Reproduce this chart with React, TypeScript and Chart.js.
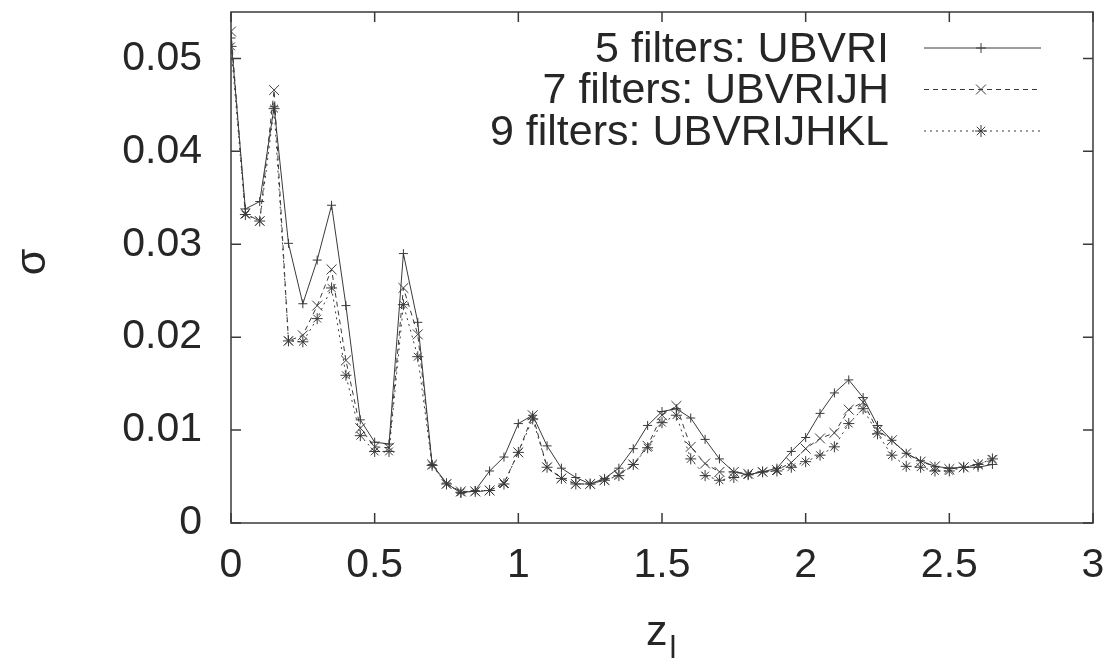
import React, { useEffect, useRef } from "react";
import { Chart, registerables } from "chart.js";

Chart.register(...registerables);

// ---- data ----
const zValues = [
  0, 0.05, 0.1, 0.15, 0.2, 0.25, 0.3, 0.35, 0.4, 0.45,
  0.5, 0.55, 0.6, 0.65, 0.7, 0.75, 0.8, 0.85, 0.9, 0.95,
  1.0, 1.05, 1.1, 1.15, 1.2, 1.25, 1.3, 1.35, 1.4, 1.45,
  1.5, 1.55, 1.6, 1.65, 1.7, 1.75, 1.8, 1.85, 1.9, 1.95,
  2.0, 2.05, 2.1, 2.15, 2.2, 2.25, 2.3, 2.35, 2.4, 2.45,
  2.5, 2.55, 2.6, 2.65,
];

const sigma5 = [
  0.0522, 0.0338, 0.0346, 0.0448, 0.0301, 0.0236, 0.0283, 0.0342, 0.0234, 0.0111,
  0.0087, 0.0085, 0.0290, 0.0216, 0.0063, 0.0043, 0.0032, 0.0035, 0.0056, 0.0071,
  0.0107, 0.0116, 0.0083, 0.0059, 0.0049, 0.0042, 0.0048, 0.0059, 0.0080, 0.0105,
  0.0120, 0.0123, 0.0113, 0.0090, 0.0069, 0.0055, 0.0052, 0.0055, 0.0059, 0.0077,
  0.0092, 0.0118, 0.0140, 0.0154, 0.0135, 0.0105, 0.0089, 0.0075, 0.0067, 0.0061,
  0.0059, 0.0060, 0.0060, 0.0063,
];

const sigma7 = [
  0.0529, 0.0333, 0.0325, 0.0466, 0.0196, 0.0202, 0.0234, 0.0273, 0.0175, 0.0102,
  0.0082, 0.0081, 0.0253, 0.0203, 0.0063, 0.0042, 0.0034, 0.0034, 0.0035, 0.0043,
  0.0076, 0.0116, 0.0060, 0.0048, 0.0042, 0.0042, 0.0046, 0.0052, 0.0063, 0.0083,
  0.0116, 0.0126, 0.0082, 0.0064, 0.0055, 0.0055, 0.0053, 0.0055, 0.0057, 0.0065,
  0.0080, 0.0091, 0.0097, 0.0122, 0.0130, 0.0100, 0.0089, 0.0075, 0.0066, 0.0061,
  0.0058, 0.0060, 0.0063, 0.0068,
];

const sigma9 = [
  0.0513, 0.0332, 0.0325, 0.0446, 0.0196, 0.0195, 0.0220, 0.0253, 0.0159, 0.0094,
  0.0077, 0.0077, 0.0235, 0.0179, 0.0062, 0.0042, 0.0033, 0.0034, 0.0035, 0.0042,
  0.0076, 0.0112, 0.0060, 0.0048, 0.0042, 0.0042, 0.0046, 0.0051, 0.0063, 0.0081,
  0.0108, 0.0116, 0.0069, 0.0051, 0.0046, 0.0049, 0.0052, 0.0055, 0.0056, 0.0060,
  0.0066, 0.0073, 0.0082, 0.0107, 0.0123, 0.0096, 0.0073, 0.0061, 0.0060, 0.0056,
  0.0056, 0.0060, 0.0063, 0.0069,
];

const seriesNames = ["5 filters: UBVRI", "7 filters: UBVRIJH", "9 filters: UBVRIJHKL"];
const xTickValues = [0, 0.5, 1, 1.5, 2, 2.5, 3];
const yTickValues = [0, 0.01, 0.02, 0.03, 0.04, 0.05];
const xTitleMain = "z";
const xTitleSub = "l";
const yTitle = "σ";

// ---- styles ----
const INK = "#262626";
const LINE = "#3a3a3a";
const FONT = "'Liberation Sans', Arial, Helvetica, sans-serif";

function drawMarker(ctx: CanvasRenderingContext2D, style: string, x: number, y: number, r: number) {
  ctx.beginPath();
  if (style === "cross" || style === "star") {
    ctx.moveTo(x - r, y);
    ctx.lineTo(x + r, y);
    ctx.moveTo(x, y - r);
    ctx.lineTo(x, y + r);
  }
  if (style === "crossRot" || style === "star") {
    const d = r * Math.SQRT1_2;
    ctx.moveTo(x - d, y - d);
    ctx.lineTo(x + d, y + d);
    ctx.moveTo(x - d, y + d);
    ctx.lineTo(x + d, y - d);
  }
  ctx.stroke();
}

const framePlugin = {
  id: "gnuplotFrame",
  afterDraw(chart: any) {
    const { ctx, chartArea } = chart;
    const { left, right, top, bottom } = chartArea;
    const xs = chart.scales.x;
    const ys = chart.scales.y;
    ctx.save();
    // border
    ctx.strokeStyle = LINE;
    ctx.lineWidth = 1.5;
    ctx.strokeRect(left, top, right - left, bottom - top);
    // inward ticks (mirrored)
    const tl = 10;
    ctx.beginPath();
    xTickValues.forEach((v) => {
      const px = xs.getPixelForValue(v);
      ctx.moveTo(px, bottom);
      ctx.lineTo(px, bottom - tl);
      ctx.moveTo(px, top);
      ctx.lineTo(px, top + tl);
    });
    yTickValues.forEach((v) => {
      const py = ys.getPixelForValue(v);
      ctx.moveTo(left, py);
      ctx.lineTo(left + tl, py);
      ctx.moveTo(right, py);
      ctx.lineTo(right - tl, py);
    });
    ctx.stroke();

    // legend
    ctx.font = `43px ${FONT}`;
    ctx.fillStyle = INK;
    ctx.textAlign = "right";
    ctx.textBaseline = "middle";
    chart.data.datasets.forEach((ds: any, i: number) => {
      const y = 48 + i * 41.5;
      ctx.fillText(ds.label, 889, y + 2);
      ctx.strokeStyle = LINE;
      ctx.lineWidth = 1;
      ctx.setLineDash(ds.borderDash || []);
      ctx.beginPath();
      ctx.moveTo(924, y);
      ctx.lineTo(1041, y);
      ctx.stroke();
      ctx.setLineDash([]);
      drawMarker(ctx, ds.pointStyle, 981, y, ds.legendMarkerSize);
    });

    // axis titles
    ctx.fillStyle = INK;
    ctx.textAlign = "left";
    ctx.textBaseline = "alphabetic";
    ctx.font = `43px ${FONT}`;
    ctx.fillText(xTitleMain, 646, 645);
    const zw = ctx.measureText(xTitleMain).width;
    ctx.font = `31px ${FONT}`;
    ctx.fillText(xTitleSub, 646 + zw + 2, 658);

    ctx.translate(33, 262);
    ctx.rotate(-Math.PI / 2);
    ctx.textAlign = "center";
    ctx.textBaseline = "middle";
    ctx.font = `43px ${FONT}`;
    ctx.fillText(yTitle, 0, 0);
    ctx.restore();
  },
};

const fmt = (v: number) => String(Number(Number(v).toFixed(3)));

const zeroPad = (s: any) => {
  s.paddingLeft = 0;
  s.paddingRight = 0;
  s.paddingTop = 0;
  s.paddingBottom = 0;
};

export default function App() {
  const ref = useRef<HTMLCanvasElement>(null);
  useEffect(() => {
    const canvas = ref.current;
    if (!canvas) return;
    const mk = (arr: number[]) => zValues.map((z, i) => ({ x: z, y: arr[i] }));
    const common = {
      borderColor: LINE,
      borderWidth: 1,
      pointBorderColor: LINE,
      pointBackgroundColor: "rgba(0,0,0,0)",
      pointBorderWidth: 1,
      fill: false,
      tension: 0,
    };
    const chart = new Chart(canvas, {
      type: "line",
      data: {
        datasets: [
          { ...common, label: seriesNames[0], data: mk(sigma5), pointStyle: "cross", pointRadius: 4.5, legendMarkerSize: 5 } as any,
          { ...common, label: seriesNames[1], data: mk(sigma7), pointStyle: "crossRot", pointRadius: 7, borderDash: [5, 4], legendMarkerSize: 7 } as any,
          { ...common, label: seriesNames[2], data: mk(sigma9), pointStyle: "star", pointRadius: 5.5, borderDash: [2, 4], legendMarkerSize: 6 } as any,
        ],
      },
      options: {
        animation: false,
        responsive: false,
        maintainAspectRatio: false,
        layout: { padding: { top: 12, right: 22, left: 0, bottom: 0 } },
        plugins: {
          legend: { display: false },
          tooltip: { enabled: false },
        },
        scales: {
          x: {
            type: "linear",
            min: 0,
            max: 3,
            grid: { display: false },
            border: { display: false },
            ticks: {
              stepSize: 0.5,
              includeBounds: false,
              padding: 10,
              color: INK,
              maxRotation: 0,
              autoSkip: false,
              font: { family: FONT, size: 41 },
              callback: (v: any) => fmt(v),
            },
            afterFit: (s: any) => {
              s.height = 139;
              zeroPad(s);
            },
          },
          y: {
            type: "linear",
            min: 0,
            max: 0.055,
            grid: { display: false },
            border: { display: false },
            ticks: {
              stepSize: 0.01,
              includeBounds: false,
              padding: 21,
              color: INK,
              autoSkip: false,
              font: { family: FONT, size: 41 },
              callback: (v: any) => fmt(v),
            },
            afterFit: (s: any) => {
              s.width = 231;
              zeroPad(s);
            },
          },
        },
      } as any,
      plugins: [framePlugin],
    });
    return () => chart.destroy();
  }, []);
  return (
    <div style={{ position: "fixed", left: 0, top: 0, width: 1115, height: 662, background: "#fff" }}>
      <canvas ref={ref} width={1115} height={662} style={{ display: "block" }} />
    </div>
  );
}
